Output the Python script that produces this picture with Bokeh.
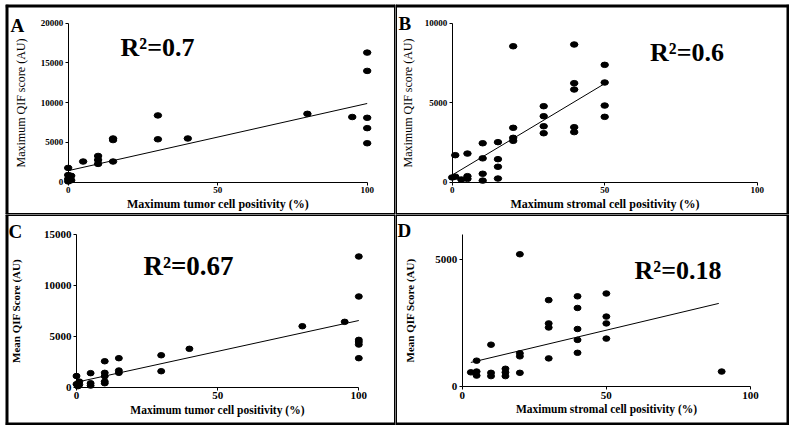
from bokeh.plotting import figure
from bokeh.layouts import gridplot
from bokeh.models import FixedTicker, Label, Span
from bokeh.embed import file_html
from bokeh.resources import INLINE

# ---------------- data ----------------
x_ticks = [0, 50, 100]

a_x = [0, 0, 0, 0, 1, 1, 5, 10, 10, 10, 15, 15, 15, 30, 30, 40, 80, 95, 100, 100, 100, 100, 100]
a_y = [1800, 900, 400, 100, 800, 250, 2600, 3300, 2800, 2300, 5500, 5300, 2600, 8400, 5400, 5500,
       8600, 8200, 16300, 14000, 8100, 6800, 4900]
a_fit_x = [0, 100]
a_fit_y = [1450, 9900]
a_yticks = [0, 5000, 10000, 15000, 20000]

b_x = [1, 1, 0, 3, 5, 5, 5, 10, 10, 10, 10, 15, 15, 15, 15, 20, 20, 20, 20, 30, 30, 30, 30,
       40, 40, 40, 40, 40, 50, 50, 50, 50]
b_y = [1700, 350, 300, 170, 1800, 380, 210, 2450, 1500, 530, 100, 2520, 1450, 970, 230,
       8550, 3420, 2790, 2600, 4780, 4150, 3520, 3080, 8660, 6230, 5830, 3460, 3150,
       7380, 6270, 4820, 4110]
b_fit_x = [0, 50]
b_fit_y = [450, 6200]
b_yticks = [0, 5000, 10000]

c_x = [0, 0, 1, 1, 0.5, 5, 5, 5, 10, 10, 10, 10, 10, 15, 15, 15, 30, 30, 40, 80, 95,
       100, 100, 100, 100, 100, 100]
c_y = [1100, 300, 550, 250, 100, 1380, 390, 160, 2550, 1410, 1080, 560, 390, 2850, 1640, 1410,
       3140, 1570, 3770, 5990, 6420, 12840, 8910, 4650, 4450, 4190, 2850]
c_fit_x = [0, 100]
c_fit_y = [490, 6550]
c_yticks = [0, 5000, 10000, 15000]

d_x = [3, 5, 5, 5, 10, 10, 10, 15, 15, 15, 20, 20, 20, 20, 30, 30, 30, 30,
       40, 40, 40, 40, 40, 50, 50, 50, 50, 90]
d_y = [560, 1020, 590, 430, 1650, 540, 410, 700, 560, 410, 5220, 1310, 1190, 540,
       3410, 2490, 2330, 1110, 3560, 3100, 2270, 1840, 1330, 3670, 2760, 2490, 1890, 590]
d_fit_x = [3, 89]
d_fit_y = [950, 3280]
d_yticks = [0, 5000]

panel_letters = ["A", "B", "C", "D"]
r2_labels = ["R\u00b2=0.7", "R\u00b2=0.6", "R\u00b2=0.67", "R\u00b2=0.18"]
x_titles = ["Maximum tumor cell positivity (%)", "Maximum stromal cell positivity (%)",
            "Maximum tumor cell positivity (%)", "Maximum stromal cell positivity (%)"]
y_titles = ["Maximum QIF score (AU)", "Maximum QIF score (AU)",
            "Mean QIF Score (AU)", "Mean QIF Score (AU)"]

FONT = "Liberation Serif"


def make_panel(cw, ch, origin, ax_px, ay_px, xlim, ylim, xs, ys, fx, fy, yticks,
               letter, letter_px, r2, r2_px, r2_size, xt, yt, tick_size, xt_size, yt_size,
               yt_bold, y_standoff, x_standoff, dot_w, dot_h, borders):
    ox, oy = origin
    ax0, ax1 = ax_px[0] - ox, ax_px[1] - ox
    ay0, ay1 = ay_px[0] - oy, ay_px[1] - oy
    # frame covers the whole canvas
    sx = (ax1 - ax0) / (xlim[1] - xlim[0])
    sy = (ay0 - ay1) / (ylim[1] - ylim[0])
    x_start = xlim[0] - ax0 / sx
    x_end = xlim[1] + (cw - ax1) / sx
    y_start = ylim[0] - (ch - ay0) / sy
    y_end = ylim[1] + ay1 / sy

    def to_data(px, py):
        return xlim[0] + (px - ox - ax0) / sx, ylim[0] + (ay0 - (py - oy)) / sy

    p = figure(width=cw, height=ch, x_range=(x_start, x_end), y_range=(y_start, y_end),
               output_backend="svg", toolbar_location=None, min_border=0)
    p.title.visible = False
    p.outline_line_color = None
    p.grid.visible = False
    p.background_fill_color = "white"
    p.border_fill_color = "white"

    p.line(fx, fy, line_color="black", line_width=1)
    p.ellipse(xs, ys, width=dot_w, height=dot_h, width_units="screen", height_units="screen",
              fill_color="black", line_color="black")

    for ax, ticks, bounds in ((p.xaxis[0], x_ticks, xlim), (p.yaxis[0], yticks, ylim)):
        ax.ticker = FixedTicker(ticks=ticks, minor_ticks=[])
        ax.bounds = bounds
        ax.fixed_location = 0
        ax.axis_line_color = "black"
        ax.axis_line_width = 1
        ax.major_tick_line_color = "black"
        ax.major_tick_in = 0
        ax.major_tick_out = 3
        ax.minor_tick_line_color = None
        ax.major_label_text_font = FONT
        ax.major_label_text_font_style = "bold"
        ax.major_label_text_font_size = f"{tick_size}px"
        ax.major_label_text_color = "black"
        ax.major_label_standoff = 2
        ax.axis_label_text_font = FONT
        ax.axis_label_text_color = "black"
    p.xaxis.axis_label = xt
    p.xaxis.axis_label_text_font_style = "bold"
    p.xaxis.axis_label_text_font_size = f"{xt_size}px"
    p.xaxis.axis_label_standoff = x_standoff
    p.yaxis.axis_label = yt
    p.yaxis.axis_label_text_font_style = "bold" if yt_bold else "normal"
    p.yaxis.axis_label_text_font_size = f"{yt_size}px"
    p.yaxis.axis_label_standoff = y_standoff

    lx, ly = to_data(*letter_px)
    p.add_layout(Label(x=lx, y=ly, text=letter, text_font=FONT, text_font_style="bold",
                       text_font_size="19px", text_color="black", text_align="left",
                       text_baseline="alphabetic"))
    rx, ry = to_data(*r2_px)
    p.add_layout(Label(x=rx, y=ry, text=r2, text_font=FONT, text_font_style="bold",
                       text_font_size=f"{r2_size}px", text_color="black", text_align="center",
                       text_baseline="alphabetic"))

    # panel border lines (left, right, top, bottom widths); centred on canvas edges
    wl, wr, wt, wb = borders
    for loc, dim, w in ((x_start, "height", wl), (x_end, "height", wr),
                        (y_end, "width", wt), (y_start, "width", wb)):
        p.add_layout(Span(location=loc, dimension=dim, line_color="black", line_width=w))
    return p


pA = make_panel(390, 210, (5, 4), (67.7, 366.7), (181.7, 22.7), (0, 100), (0, 20000),
                a_x, a_y, a_fit_x, a_fit_y, a_yticks, panel_letters[0], (10, 25),
                r2_labels[0], (157, 47), 26, x_titles[0], y_titles[0], 9, 12, 12, False, 10, 0,
                7.5, 5.5, (6, 3, 6, 3))
pB = make_panel(394, 210, (395, 4), (451.7, 756.7), (181.7, 22.7), (0, 100), (0, 10000),
                b_x, b_y, b_fit_x, b_fit_y, b_yticks, panel_letters[1], (398, 23),
                r2_labels[1], (686.5, 51.7), 26, x_titles[1], y_titles[1], 9, 12, 12, False, 7, 0,
                7.5, 5.5, (3, 6, 6, 3))
pC = make_panel(390, 211, (5, 214), (76, 358.3), (386.7, 234), (0, 100), (0, 15000),
                c_x, c_y, c_fit_x, c_fit_y, c_yticks, panel_letters[2], (8, 231),
                r2_labels[2], (188, 265), 27, x_titles[2], y_titles[2], 11, 11.5, 11, True, 19, 1,
                7, 5.5, (6, 3, 3, 6))
pD = make_panel(394, 211, (395, 214), (461.7, 750), (386, 234), (0, 100), (0, 6000),
                d_x, d_y, d_fit_x, d_fit_y, d_yticks, panel_letters[3], (397, 230),
                r2_labels[3], (677.5, 270), 26, x_titles[3], y_titles[3], 11, 11.5, 11, True, 17, 1,
                7, 5.5, (3, 6, 3, 6))

grid = gridplot([[pA, pB], [pC, pD]], toolbar_location=None)
grid.spacing = 0
grid.styles = {"margin-left": "5px", "margin-top": "4px"}

open("out.html", "w").write(file_html(grid, INLINE))
